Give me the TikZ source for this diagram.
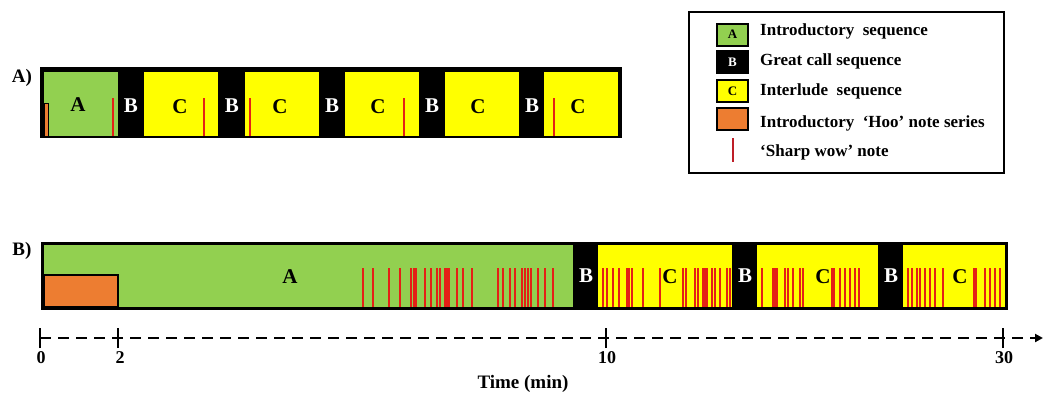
\documentclass[tikz,border=0pt]{standalone}
\usepackage{fontspec}
\setmainfont{Liberation Serif}
\usetikzlibrary{arrows.meta}
\definecolor{agreen}{RGB}{146,208,80}
\definecolor{cyel}{RGB}{255,255,0}
\definecolor{horange}{RGB}{237,125,49}
\definecolor{wowred}{RGB}{228,32,22}
\definecolor{legred}{RGB}{190,30,40}
\begin{document}
\begin{tikzpicture}[x=1pt,y=-1pt,
  seglbl/.style={font=\bfseries\fontsize{21}{21}\selectfont, inner sep=0pt},
  wseglbl/.style={seglbl,text=white},
  panellbl/.style={font=\bfseries\fontsize{19}{19}\selectfont, inner sep=0pt, anchor=base},
  axislbl/.style={font=\bfseries\fontsize{18}{18}\selectfont, inner sep=0pt},
  legtext/.style={font=\bfseries\fontsize{17}{17}\selectfont, inner sep=0pt, anchor=base west},
  swatch/.style={draw=black, line width=2pt, minimum width=31pt, minimum height=22pt,
     inner sep=0pt, font=\bfseries\fontsize{13}{13}\selectfont},
  wow/.style={draw=wowred, line width=2pt},
  tick/.style={line width=2.5pt},
  timeaxis/.style={line width=2.5pt, dash pattern=on 11pt off 7pt, -{Triangle[length=8pt,width=8pt]}}
]
\useasboundingbox (0,0) rectangle (1050,405);

% ---------------- Panel A ----------------
\node[panellbl] (labA) at (22,82) {A)};
\fill[black] (40,67) rectangle (622,138);
\fill[agreen] (44,72) rectangle (118,136);
\foreach \a/\b in {144/218,245/319,345/419,445/519,544/618}
  \fill[cyel] (\a,72) rectangle (\b,136);
\filldraw[fill=horange,draw=black,line width=1pt] (44,103) rectangle (48,136);
\foreach \x in {113,204,250,404,554}
  \draw[wow] (\x,98) -- (\x,136);
\node[seglbl] (aA) at (78,105) {A};
\foreach \x [count=\i] in {131,232,332,432,532}
  \node[wseglbl] (aB\i) at (\x,106) {B};
\foreach \x [count=\i] in {180,280,378,478,578}
  \node[seglbl] (aC\i) at (\x,107) {C};

% ---------------- Panel B ----------------
\node[panellbl] (labB) at (22,255) {B)};
\fill[black] (41,242) rectangle (1008,310);
\fill[agreen] (44,245) rectangle (573,307);
\foreach \a/\b in {598/732,757/878,903/1005}
  \fill[cyel] (\a,245) rectangle (\b,307);
\filldraw[fill=horange,draw=black,line width=2.5pt] (44,275) rectangle (118,307);
\foreach \x in {362.7,372.7,389.3,400,411.3,413.5,415.8,425,430.7,437.3,440,444.5,446.5,448.5,456.7,462.7,471.7,
                498.3,502.7,510,515,522,525,528,531,538.3,545,553.3,
                603.3,606.7,613.3,619.3,626.7,629.3,632.3,642.7,660,683.3,686,695,698.3,702.7,704.7,706.7,711.7,715,720,726.7,730,
                761.7,773.3,775.2,776.9,785,788.3,793.3,800,802.7,831.7,834,840,845,850,855,859.3,
                908.3,911.7,916.7,920,925,930,935,943.3,974,976,985,990,995,1000}
  \draw[wow] (\x,268) -- (\x,307);
\node[seglbl] (bA) at (290,277) {A};
\foreach \x [count=\i] in {586,745,891}
  \node[wseglbl] (bB\i) at (\x,276) {B};
\foreach \x [count=\i] in {670,823,960}
  \node[seglbl] (bC\i) at (\x,277) {C};

% ---------------- Time axis ----------------
\coordinate (t0) at (40,338);
\coordinate (t2) at (118,338);
\coordinate (t10) at (606,338);
\coordinate (t30) at (1003,338);
\coordinate (tend) at (1043,338);
\draw[timeaxis] (t0) -- (tend);
\foreach \c in {t0,t2,t10,t30}
  \draw[tick] ([yshift=-10pt]\c) -- ([yshift=10pt]\c);
\node[axislbl] (l0) at (41,358) {0};
\node[axislbl] (l2) at (120,358) {2};
\node[axislbl] (l10) at (607,358) {10};
\node[axislbl] (l30) at (1004,358) {30};
\node[axislbl, font=\bfseries\fontsize{19}{19}\selectfont] (ltime) at (523,384) {Time (min)};

% ---------------- Legend ----------------
\draw[line width=1.5pt] (689,12) rectangle (1004,173);
\node[swatch, fill=agreen] (swA) at (732.5,34.5) {A};
\node[swatch, fill=black, text=white] (swB) at (732.5,62) {B};
\node[swatch, fill=cyel] (swC) at (732.5,91) {C};
\node[swatch, fill=horange] (swH) at (732.5,119) {};
\coordinate (wowtop) at (733,138);
\coordinate (wowbot) at (733,162);
\draw[legred, line width=1.5pt] (wowtop) -- (wowbot);
\node[legtext] (tA) at (760,35) {Introductory~ sequence};
\node[legtext] (tB) at (760,65) {Great call sequence};
\node[legtext] (tC) at (760,95) {Interlude~ sequence};
\node[legtext] (tH) at (760,127) {Introductory~ ‘Hoo’ note series};
\node[legtext] (tW) at (760,156) {‘Sharp wow’ note};
\end{tikzpicture}
\end{document}
